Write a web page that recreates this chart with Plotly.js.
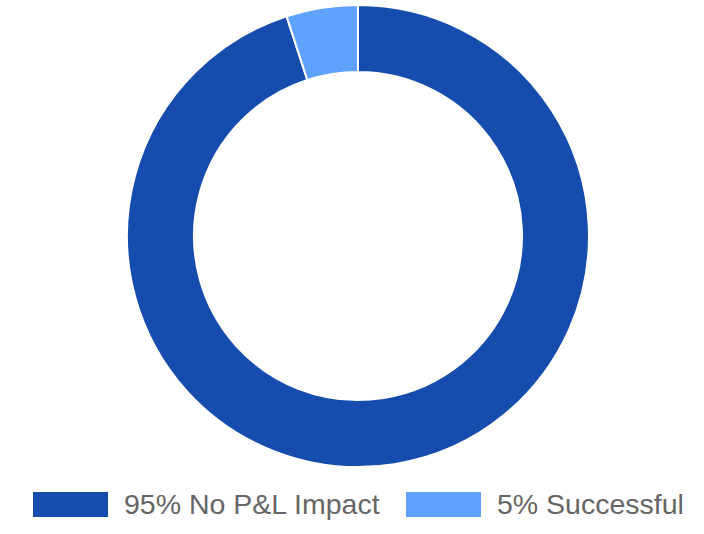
<!DOCTYPE html>
<html>
<head>
<meta charset="utf-8">
<script src="https://cdn.plot.ly/plotly-3.0.1.min.js"></script>
<style>
  html, body { margin: 0; padding: 0; background: #fff; }
  #myDiv { width: 704px; height: 534px; }
</style>
</head>
<body>
<div id="myDiv"></div>
<script>
// values
var labels = ['95% No P&L Impact', '5% Successful'];
var values = [95, 5];
var colors = ['#154cad', '#5ea2fd'];

var trace = {
  type: 'pie',
  labels: labels,
  values: values,
  hole: 0.71,
  sort: false,
  direction: 'clockwise',
  rotation: 0,
  textinfo: 'none',
  hoverinfo: 'label',
  marker: { colors: colors, line: { color: '#ffffff', width: 2 } },
  domain: { x: [0.1804, 0.8366], y: [0.1255, 0.9906] },
  showlegend: false
};

// legend drawn by hand: wide swatches like the original
var swatchX = [33, 406];
var shapes = [];
var annotations = [];
for (var i = 0; i < labels.length; i++) {
  shapes.push({
    type: 'rect', xref: 'paper', yref: 'paper',
    x0: swatchX[i] / 704, x1: (swatchX[i] + 75) / 704,
    y0: (534 - 517) / 534, y1: (534 - 492) / 534,
    fillcolor: colors[i], line: { width: 0 }
  });
  annotations.push({
    xref: 'paper', yref: 'paper',
    x: (swatchX[i] + 89) / 704, y: (534 - 504) / 534,
    xanchor: 'left', yanchor: 'middle',
    text: labels[i].replace('&', '&amp;'),
    showarrow: false,
    font: { family: 'Liberation Sans, Arial, sans-serif', size: 28.5, color: '#666666' }
  });
}

var layout = {
  width: 704,
  height: 534,
  margin: { l: 0, r: 0, t: 0, b: 0 },
  paper_bgcolor: '#ffffff',
  showlegend: false,
  shapes: shapes,
  annotations: annotations
};

Plotly.newPlot('myDiv', [trace], layout, { displayModeBar: false, staticPlot: true });
</script>
</body>
</html>
